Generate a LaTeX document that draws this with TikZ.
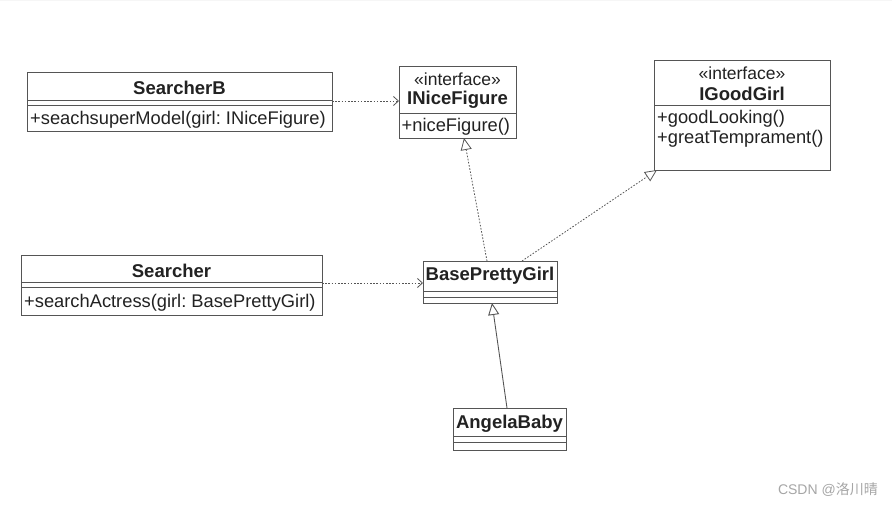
\documentclass[tikz,border=0pt]{standalone}
\usepackage{fontspec}
\setmainfont{Liberation Sans}
\newfontfamily\cjk{Noto Sans CJK SC}
\usetikzlibrary{arrows.meta}
\frenchspacing
\definecolor{ln}{HTML}{555555}
\definecolor{tx}{HTML}{222222}
\tikzset{
  x=1pt,y=-1pt,
  cls/.style={draw=ln,line width=1pt,fill=white,anchor=north west,inner sep=0pt},
  dv/.style={draw=ln,line width=0.9pt},
  nm/.style={font=\fontsize{18.5}{20}\selectfont\bfseries,text=tx,inner sep=0pt},
  st/.style={font=\fontsize{17.5}{19}\selectfont,text=tx,inner sep=0pt},
  mt/.style={font=\fontsize{18.3}{20}\selectfont,text=tx,inner sep=0pt,anchor=west},
  dep/.style={draw=ln,line width=0.8pt,dash pattern=on 1.6pt off 1.6pt,-{Straight Barb[length=5pt,width=9pt]}},
  real/.style={draw=ln,line width=0.8pt,dash pattern=on 1.6pt off 1.6pt,-{Triangle[open,length=12pt,width=11pt,fill=white]}},
  gen/.style={draw=ln,line width=0.9pt,-{Triangle[open,length=12pt,width=11pt,fill=white]}},
}
\begin{document}
\begin{tikzpicture}
\useasboundingbox (0,0) rectangle (892,505);
\fill[white] (0,0) rectangle (892,505);
\draw[gray!7,line width=0.5pt,step=7pt] (0,0) grid (892,-505);

% SearcherB
\node[cls,minimum width=305pt,minimum height=59pt] (sb) at (27,72) {};
\draw[dv] (27,100) -- (332,100) (27,105) -- (332,105);
\node[nm] (sbn) at (179.5,87.5) {SearcherB};
\node[mt] (sbm) at (30,120) {+seachsuperModel(girl: INiceFigure)};

% INiceFigure
\node[cls,minimum width=117pt,minimum height=72pt] (inf) at (399,66) {};
\draw[dv] (399,113) -- (516,113);
\node[st] (infs) at (457.5,79) {«interface»};
\node[nm] (infn) at (457.5,100) {INiceFigure};
\node[mt] (infm) at (401.5,127) {+niceFigure()};

% IGoodGirl
\node[cls,minimum width=176pt,minimum height=110pt] (igg) at (654,60) {};
\draw[dv] (654,105) -- (830,105);
\node[st] (iggs) at (742,73.5) {«interface»};
\node[nm] (iggn) at (742,94) {IGoodGirl};
\node[mt] (iggm1) at (657,119) {+goodLooking()};
\node[mt] (iggm2) at (657,139) {+greatTemprament()};

% Searcher
\node[cls,minimum width=301pt,minimum height=60pt] (s) at (21,255) {};
\draw[dv] (21,282) -- (322,282) (21,287) -- (322,287);
\node[nm] (sn) at (171.5,270.5) {Searcher};
\node[mt] (sm) at (24,303) {+searchActress(girl: BasePrettyGirl)};

% BasePrettyGirl
\node[cls,minimum width=134pt,minimum height=42pt] (bpg) at (423,261) {};
\draw[dv] (423,291) -- (557,291) (423,297) -- (557,297);
\node[nm] (bpgn) at (490,276) {BasePrettyGirl};

% AngelaBaby
\node[cls,minimum width=113pt,minimum height=42pt] (ab) at (453,408) {};
\draw[dv] (453,436) -- (566,436) (453,442) -- (566,442);
\node[nm] (abn) at (509.5,424) {AngelaBaby};

% connectors
\coordinate (c1) at (332,101);
\coordinate (c2) at (399,101);
\draw[dep] (c1) -- (c2);
\coordinate (c3) at (322,283);
\coordinate (c4) at (423,283);
\draw[dep] (c3) -- (c4);
\coordinate (c5) at (487,261);
\coordinate (c6) at (464,138);
\draw[real] (c5) -- (c6);
\coordinate (c7) at (522,261);
\coordinate (c8) at (657,170);
\draw[real] (c7) -- (c8);
\coordinate (c9) at (507,408);
\coordinate (c10) at (492,303);
\draw[gen] (c9) -- (c10);

\node[font=\fontsize{14}{16}\selectfont,text=gray!70,anchor=east,inner sep=0pt] (wm) at (878,490) {CSDN @{\cjk 洛川晴}};
\end{tikzpicture}
\end{document}
